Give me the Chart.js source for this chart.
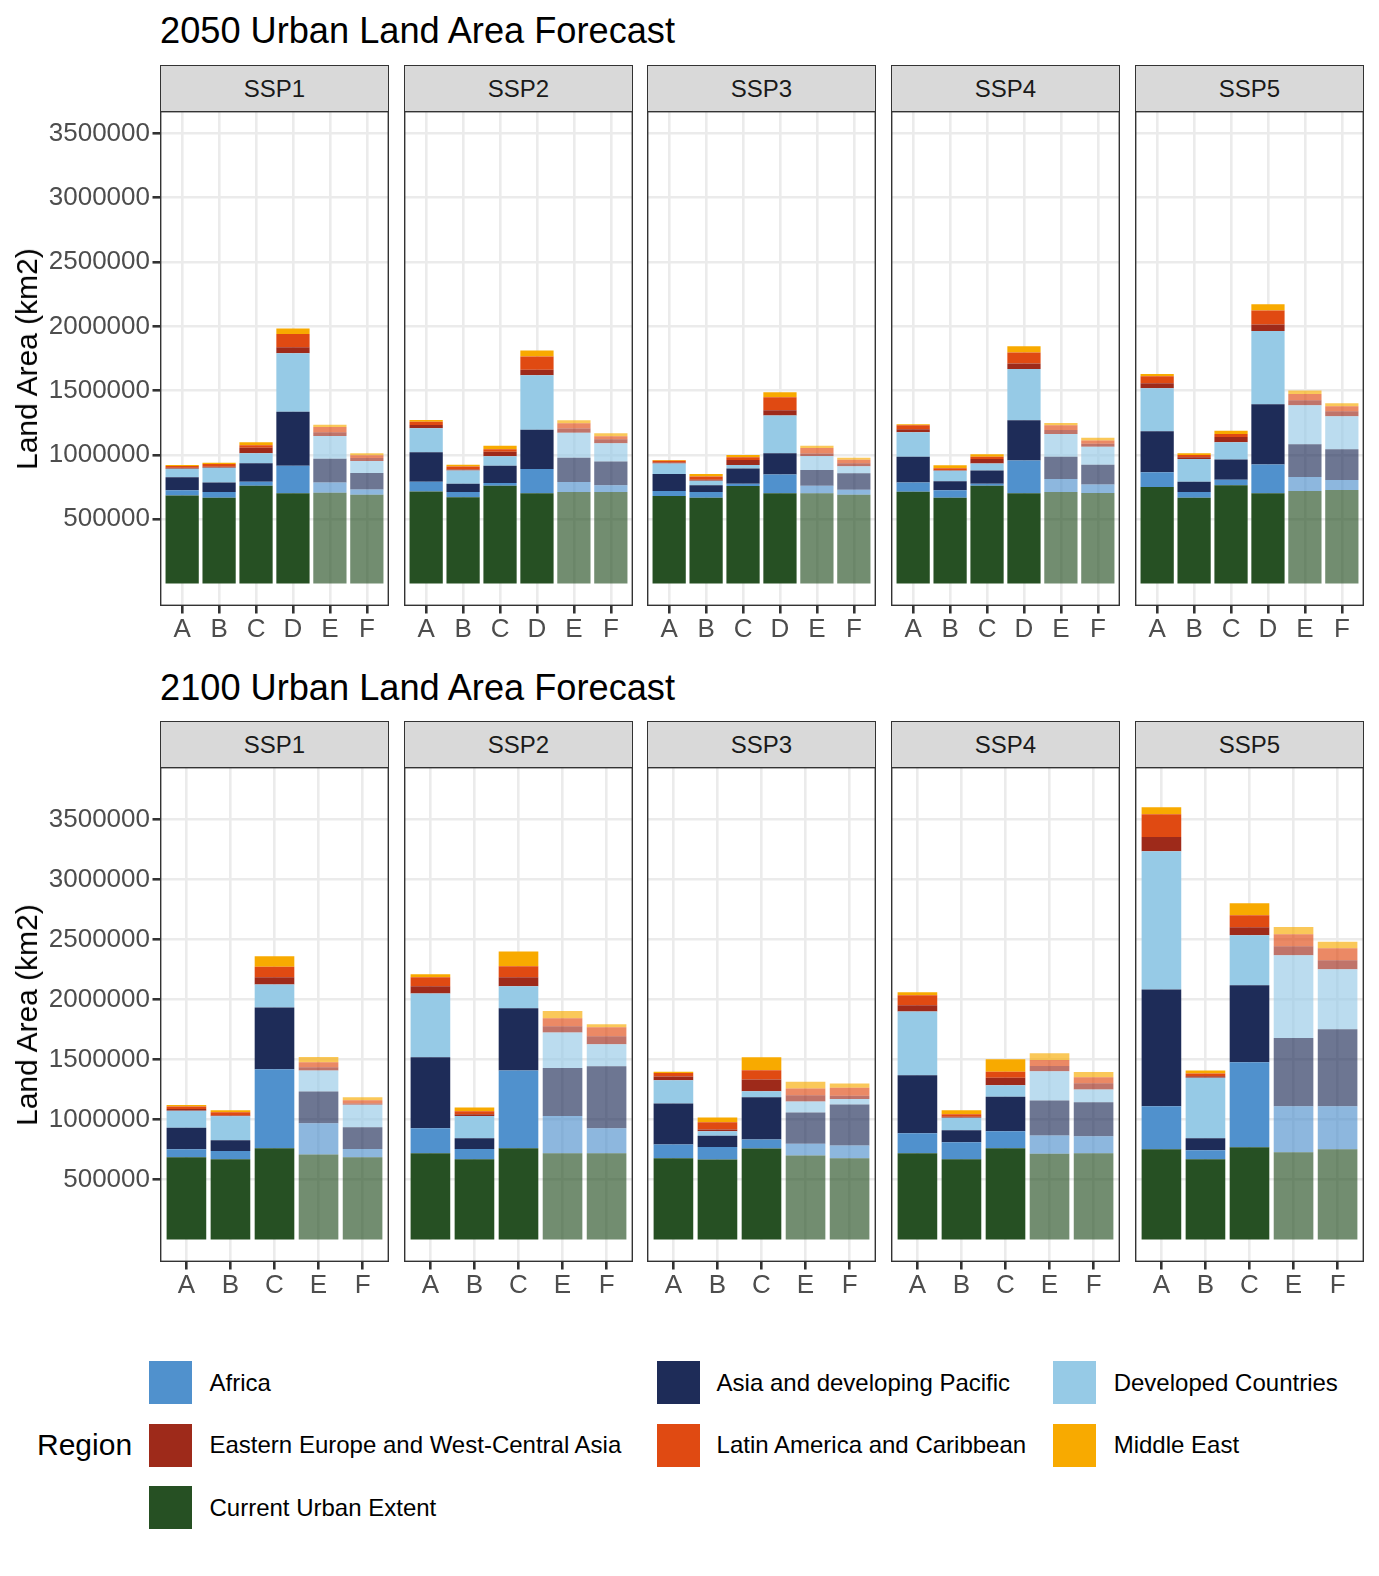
<!DOCTYPE html>
<html>
<head>
<meta charset="utf-8">
<script src="https://cdn.jsdelivr.net/npm/chart.js@4.4.1/dist/chart.umd.min.js"></script>
<style>
html,body{margin:0;padding:0;background:#fff;}
body{width:1379px;height:1576px;position:relative;overflow:hidden;font-family:"Liberation Sans",Arial,Helvetica,sans-serif;}
.abs{position:absolute;}
.title{font-size:36.2px;line-height:36px;color:#000;white-space:nowrap;}
.ytitle{font-size:30px;line-height:30px;color:#000;white-space:nowrap;transform:translate(-50%,-50%) rotate(-90deg);}
.strip{background:#D9D9D9;box-sizing:border-box;border:1.4px solid #333333;font-size:24px;line-height:24px;color:#1A1A1A;display:flex;align-items:center;justify-content:center;}
.legtitle{font-size:30px;line-height:30px;color:#000;white-space:nowrap;}
.legkey{width:43px;height:43px;}
.leglabel{font-size:24px;line-height:24px;color:#000;white-space:nowrap;}
</style>
</head>
<body>
<script>
// ---------------- DATA ----------------
const scenarios = ['SSP1', 'SSP2', 'SSP3', 'SSP4', 'SSP5'];
const categories2050 = ['A', 'B', 'C', 'D', 'E', 'F'];
const categories2100 = ['A', 'B', 'C', 'E', 'F'];
const fadedCategories = ['E', 'F'];
const yTickValues = [500000, 1000000, 1500000, 2000000, 2500000, 3000000, 3500000];
const regionNames = ['Africa', 'Asia and developing Pacific', 'Developed Countries',
  'Eastern Europe and West-Central Asia', 'Latin America and Caribbean', 'Middle East', 'Current Urban Extent'];

// one row per scenario (SSP1..SSP5), one column per category
const current2050 = [
  [685000, 667000, 760000, 701000, 706000, 690000],
  [716000, 670000, 760000, 701000, 711000, 711000],
  [680000, 667000, 758000, 701000, 701000, 690000],
  [714000, 667000, 760000, 701000, 711000, 703000],
  [750000, 667000, 765000, 701000, 719000, 727000]
];
const africa2050 = [
  [41000, 44000, 31000, 215000, 80000, 41000],
  [75000, 41000, 21000, 189000, 78000, 54000],
  [39000, 44000, 18000, 147000, 59000, 39000],
  [72000, 59000, 16000, 256000, 101000, 67000],
  [116000, 44000, 41000, 225000, 109000, 78000]
];
const asia2050 = [
  [101000, 75000, 145000, 419000, 184000, 129000],
  [230000, 65000, 134000, 305000, 189000, 184000],
  [132000, 54000, 119000, 166000, 122000, 129000],
  [199000, 70000, 103000, 313000, 173000, 153000],
  [318000, 80000, 158000, 468000, 256000, 240000]
];
const developed2050 = [
  [65000, 114000, 78000, 455000, 178000, 93000],
  [186000, 103000, 75000, 424000, 194000, 142000],
  [83000, 34000, 26000, 292000, 109000, 54000],
  [191000, 80000, 54000, 398000, 178000, 140000],
  [334000, 178000, 134000, 569000, 303000, 256000]
];
const easternEurope2050 = [
  [8000, 8000, 41000, 47000, 28000, 23000],
  [26000, 8000, 34000, 44000, 34000, 31000],
  [8000, 8000, 39000, 41000, 21000, 23000],
  [23000, 5000, 36000, 44000, 31000, 23000],
  [39000, 13000, 41000, 52000, 39000, 39000]
];
const latinAmerica2050 = [
  [13000, 21000, 21000, 103000, 41000, 21000],
  [26000, 23000, 21000, 103000, 41000, 23000],
  [13000, 26000, 21000, 101000, 41000, 28000],
  [31000, 16000, 16000, 85000, 36000, 26000],
  [54000, 18000, 23000, 109000, 47000, 39000]
];
const middleEast2050 = [
  [8000, 10000, 23000, 44000, 18000, 16000],
  [13000, 13000, 26000, 47000, 23000, 23000],
  [5000, 18000, 18000, 39000, 18000, 16000],
  [8000, 23000, 21000, 49000, 18000, 21000],
  [18000, 13000, 26000, 47000, 28000, 23000]
];

const current2100 = [
  [686000, 669000, 761000, 708000, 686000],
  [719000, 669000, 761000, 719000, 719000],
  [678000, 667000, 758000, 700000, 678000],
  [719000, 669000, 761000, 714000, 719000],
  [753000, 669000, 769000, 728000, 753000]
];
const africa2100 = [
  [67000, 69000, 658000, 261000, 69000],
  [208000, 86000, 647000, 311000, 208000],
  [114000, 103000, 75000, 97000, 106000],
  [167000, 142000, 142000, 153000, 142000],
  [358000, 75000, 708000, 383000, 358000]
];
const asia2100 = [
  [178000, 89000, 514000, 264000, 181000],
  [592000, 89000, 519000, 400000, 517000],
  [342000, 94000, 353000, 261000, 342000],
  [483000, 100000, 286000, 292000, 283000],
  [972000, 100000, 642000, 569000, 642000]
];
const developed2100 = [
  [142000, 200000, 192000, 175000, 186000],
  [531000, 186000, 183000, 294000, 183000],
  [194000, 39000, 50000, 92000, 44000],
  [531000, 103000, 97000, 244000, 106000],
  [1153000, 503000, 417000, 689000, 500000]
];
const easternEurope2100 = [
  [14000, 6000, 61000, 28000, 11000],
  [61000, 14000, 75000, 53000, 67000],
  [31000, 14000, 97000, 53000, 28000],
  [53000, 8000, 61000, 42000, 53000],
  [119000, 14000, 67000, 75000, 75000]
];
const latinAmerica2100 = [
  [22000, 28000, 86000, 42000, 28000],
  [75000, 25000, 92000, 67000, 75000],
  [28000, 61000, 78000, 56000, 67000],
  [83000, 22000, 50000, 50000, 50000],
  [189000, 22000, 100000, 100000, 100000]
];
const middleEast2100 = [
  [11000, 17000, 89000, 42000, 25000],
  [25000, 31000, 122000, 61000, 25000],
  [11000, 39000, 108000, 56000, 36000],
  [25000, 33000, 106000, 58000, 42000],
  [58000, 25000, 100000, 61000, 53000]
];

// ---------------- STYLE / LAYOUT ----------------
const regionColors = ['#5091CD', '#1E2C58', '#96CAE6', '#9E2A1A', '#E04A12', '#F8AA00', '#265023'];
const fadeAlpha = 0.65;
const stackOrder = [6, 0, 1, 2, 3, 4, 5]; // bottom -> top
const FONT = '"Liberation Sans", Arial, Helvetica, sans-serif';

const years = [
  { title: '2050 Urban Land Area Forecast', categories: categories2050,
    values: [africa2050, asia2050, developed2050, easternEurope2050, latinAmerica2050, middleEast2050, current2050],
    yMin: -175000, yMax: 3675000, panelTop: 111, titleBaseline: 44 },
  { title: '2100 Urban Land Area Forecast', categories: categories2100,
    values: [africa2100, asia2100, developed2100, easternEurope2100, latinAmerica2100, middleEast2100, current2100],
    yMin: -187500, yMax: 3937500, panelTop: 767, titleBaseline: 700.5 }
];
const L = { panelW: 229, panelLefts: [160, 404, 647, 891, 1135], panelH: 495, stripH: 46,
  padTop: 26, xAxisH: 46, tickLen: 7.5, gridW: 2.6, tickW: 2.6 };

function fade(hex, a) {
  const n = parseInt(hex.slice(1), 16);
  return `rgba(${(n >> 16) & 255},${(n >> 8) & 255},${n & 255},${a})`;
}
function addDiv(cls, text, css) {
  const d = document.createElement('div');
  d.className = 'abs ' + cls;
  if (text !== null) d.textContent = text;
  d.style.cssText += css;
  document.body.appendChild(d);
  return d;
}

const panelBorder = {
  id: 'panelBorder',
  afterDraw(chart) {
    const { ctx, chartArea: a } = chart;
    ctx.save();
    ctx.strokeStyle = '#333333';
    ctx.lineWidth = 1.4;
    ctx.strokeRect(a.left + 0.7, a.top + 0.7, a.right - a.left - 1.4, a.bottom - a.top - 1.4);
    ctx.restore();
  }
};

function makePanel(yr, col) {
  const first = col === 0;
  const left = L.panelLefts[col];
  const axisW = first ? left : 0;
  const w = axisW + L.panelW, h = L.padTop + L.panelH + L.xAxisH;
  const cv = document.createElement('canvas');
  cv.width = w; cv.height = h;
  cv.style.cssText = `position:absolute;left:${left - axisW}px;top:${yr.panelTop - L.padTop}px;width:${w}px;height:${h}px;`;
  document.body.appendChild(cv);

  // strip
  addDiv('strip', scenarios[col], `left:${left}px;top:${yr.panelTop - L.stripH}px;width:${L.panelW}px;height:${L.stripH + 1}px;`);

  const cats = yr.categories;
  const datasets = stackOrder.map(ri => ({
    label: regionNames[ri],
    data: yr.values[ri][col].map((v, i) => ({ x: i, y: v })),
    backgroundColor: cats.map(c => fadedCategories.includes(c) ? fade(regionColors[ri], fadeAlpha) : regionColors[ri]),
    borderWidth: 0,
    barPercentage: 0.9,
    categoryPercentage: 1.0
  }));

  new Chart(cv, {
    type: 'bar',
    data: { datasets },
    plugins: [panelBorder],
    options: {
      responsive: false,
      animation: false,
      devicePixelRatio: 1,
      layout: { padding: { top: L.padTop, left: 0, right: 0, bottom: 0 } },
      plugins: { legend: { display: false }, tooltip: { enabled: false }, title: { display: false } },
      scales: {
        x: {
          type: 'linear', stacked: true, offset: false, bounds: 'data',
          min: -0.6, max: cats.length - 1 + 0.6,
          afterBuildTicks: ax => { ax.ticks = cats.map((c, i) => ({ value: i })); },
          afterFit: s => { s.height = L.xAxisH; },
          ticks: { autoSkip: false, maxRotation: 0, padding: 1, color: '#4D4D4D',
            font: { family: FONT, size: 26 }, callback: v => cats[v] },
          grid: { offset: false, color: '#EBEBEB', lineWidth: L.gridW, drawTicks: true, tickLength: L.tickLen,
            tickColor: '#333333', tickWidth: L.tickW },
          border: { display: false }
        },
        y: {
          type: 'linear', stacked: true, bounds: 'data',
          min: yr.yMin, max: yr.yMax,
          afterBuildTicks: ax => { ax.ticks = yTickValues.map(v => ({ value: v })); },
          afterFit: s => { s.width = axisW; },
          ticks: { display: first, padding: 2.5, color: '#4D4D4D',
            font: { family: FONT, size: 26 }, callback: v => String(v) },
          grid: { offset: false, color: '#EBEBEB', lineWidth: L.gridW, drawTicks: first, tickLength: L.tickLen,
            tickColor: '#333333', tickWidth: L.tickW },
          border: { display: false }
        }
      }
    }
  });
}

years.forEach(yr => {
  scenarios.forEach((s, col) => makePanel(yr, col));
  addDiv('title', yr.title, `left:${L.panelLefts[0]}px;top:${yr.titleBaseline - 30.7}px;`);
  addDiv('ytitle', 'Land Area (km2)', `left:26.5px;top:${yr.panelTop + L.panelH / 2}px;`);
});

// legend
const legend = { keyX: [149, 657.3, 1053.3], labelX: [209.5, 716.6, 1113.7], rowY: [1382.5, 1445, 1507.5] };
addDiv('legtitle', 'Region', `left:37px;top:${1445 - 14.6}px;`);
regionNames.forEach((name, i) => {
  const c = i % 3, r = Math.floor(i / 3);
  addDiv('legkey', null, `left:${legend.keyX[c]}px;top:${legend.rowY[r] - 21.5}px;background:${regionColors[i]};`);
  addDiv('leglabel', name, `left:${legend.labelX[c]}px;top:${legend.rowY[r] - 12}px;`);
});
</script>
</body>
</html>
